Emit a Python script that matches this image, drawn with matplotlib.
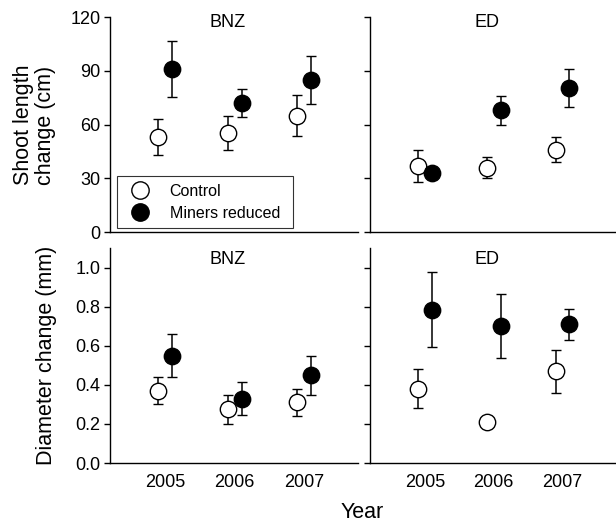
"""
Shoot length and diameter change by year, control vs miners reduced (BNZ / ED sites).
"""

import numpy as np
import matplotlib
matplotlib.use("Agg")
import matplotlib.pyplot as plt
from matplotlib.lines import Line2D

plt.rcParams['font.family'] = ['Liberation Sans', 'DejaVu Sans']

years = [2005, 2006, 2007]

# Shoot length change (cm)
bnz_shoot_control = [53, 55.5, 65]
bnz_shoot_control_err = [10, 9.5, 11.5]
bnz_shoot_miners = [91, 72, 85]
bnz_shoot_miners_err = [15.5, 8, 13.5]
ed_shoot_control = [37, 36, 46]
ed_shoot_control_err = [9, 6, 7]
ed_shoot_miners = [33, 68, 80.5]
ed_shoot_miners_err = [2, 8, 10.5]

# Diameter change (mm)
bnz_diam_control = [0.37, 0.275, 0.31]
bnz_diam_control_err = [0.07, 0.073, 0.07]
bnz_diam_miners = [0.55, 0.33, 0.45]
bnz_diam_miners_err = [0.11, 0.083, 0.1]
ed_diam_control = [0.38, 0.21, 0.47]
ed_diam_control_err = [0.1, 0.01, 0.11]
ed_diam_miners = [0.785, 0.70, 0.71]
ed_diam_miners_err = [0.19, 0.165, 0.08]

W, H = 616, 523
fig = plt.figure(figsize=(W / 100, H / 100), dpi=100)

MS = 11.8


def px_axes(left, top, right, bottom):
    return fig.add_axes([left / W, 1 - bottom / H, (right - left) / W, (bottom - top) / H])


def draw_panel(ax, ctrl, ctrl_err, mine, mine_err, title, title_y, ylim, yticks, show_ylabels, show_xlabels):
    x = np.array(years, dtype=float)
    ax.errorbar(x - 0.1, ctrl, yerr=ctrl_err, fmt='o', color='black', mfc='white', mec='black',
                ms=MS, mew=1.0, elinewidth=1.1, capsize=3.5, capthick=1.1, zorder=2)
    ax.errorbar(x + 0.1, mine, yerr=mine_err, fmt='o', color='black', mfc='black', mec='black',
                ms=MS, mew=1.0, elinewidth=1.1, capsize=3.5, capthick=1.1, zorder=3)
    ax.set_xlim(2004.2, 2007.78)
    ax.set_ylim(*ylim)
    ax.set_yticks(yticks)
    ax.set_xticks(years)
    ax.spines['top'].set_visible(False)
    ax.spines['right'].set_visible(False)
    ax.spines['left'].set_linewidth(1.0)
    ax.spines['bottom'].set_linewidth(1.0)
    ax.tick_params(axis='y', direction='out', length=4, width=1.0, labelsize=13, pad=3)
    ax.tick_params(axis='x', length=0, labelsize=13, pad=8)
    if not show_ylabels:
        ax.set_yticklabels([])
    if not show_xlabels:
        ax.set_xticklabels([])
    ax.text(2005.9, title_y, title, ha='center', va='center', fontsize=13)


# Top row: shoot length
ax1 = px_axes(110, 17, 358, 232)
draw_panel(ax1, bnz_shoot_control, bnz_shoot_control_err, bnz_shoot_miners, bnz_shoot_miners_err,
           "BNZ", 117, (0, 120), [0, 30, 60, 90, 120], True, False)
ax2 = px_axes(370, 17, 616, 232)
draw_panel(ax2, ed_shoot_control, ed_shoot_control_err, ed_shoot_miners, ed_shoot_miners_err,
           "ED", 117, (0, 120), [0, 30, 60, 90, 120], False, False)

# Bottom row: diameter
ax3 = px_axes(110, 248, 358, 463)
draw_panel(ax3, bnz_diam_control, bnz_diam_control_err, bnz_diam_miners, bnz_diam_miners_err,
           "BNZ", 1.043, (0, 1.1), [0.0, 0.2, 0.4, 0.6, 0.8, 1.0], True, True)
ax3.set_yticklabels([f"{v:.1f}" for v in [0.0, 0.2, 0.4, 0.6, 0.8, 1.0]])
ax4 = px_axes(370, 248, 616, 463)
draw_panel(ax4, ed_diam_control, ed_diam_control_err, ed_diam_miners, ed_diam_miners_err,
           "ED", 1.043, (0, 1.1), [0.0, 0.2, 0.4, 0.6, 0.8, 1.0], False, True)

# Legend in the first panel (box spans a fixed width)
handles = [
    Line2D([], [], ls='none', marker='o', ms=12.5, mfc='white', mec='black', mew=1.0, label='Control'),
    Line2D([], [], ls='none', marker='o', ms=12.5, mfc='black', mec='black', mew=1.0, label='Miners reduced'),
]
leg = ax1.legend(handles=handles, loc='lower left', bbox_to_anchor=(0.028, 0.019, 0.71, 0.24),
                 mode='expand', borderaxespad=0, fontsize=11.5, frameon=True, fancybox=False,
                 handlelength=2.0, handletextpad=0.85, labelspacing=0.45, borderpad=0.45)
leg.get_frame().set_edgecolor('black')
leg.get_frame().set_linewidth(0.8)

# Axis labels
fig.text(34.5 / W, 1 - 125 / H, "Shoot length\nchange (cm)", rotation=90, ha='center', va='center',
         fontsize=15.5, linespacing=1.05)
fig.text(47 / W, 1 - 355 / H, "Diameter change (mm)", rotation=90, ha='center', va='center', fontsize=15.5)
fig.text(362 / W, 1 - 513 / H, "Year", ha='center', va='center', fontsize=15.5)

plt.savefig("out.png", dpi=100)
plt.close()
